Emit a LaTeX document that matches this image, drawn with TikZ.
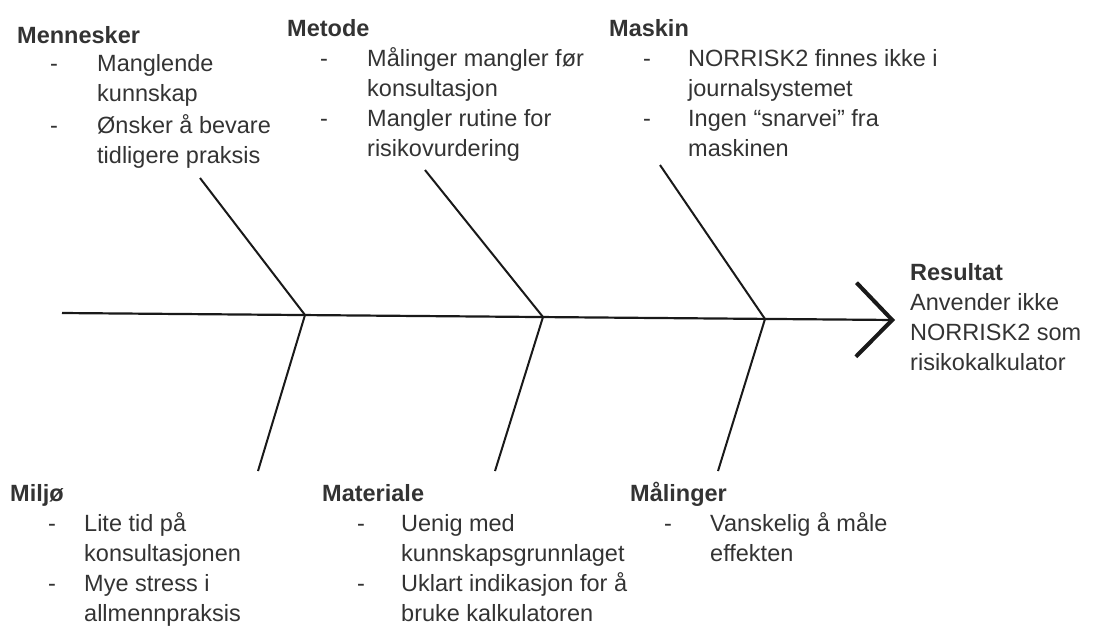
\documentclass[tikz,border=0pt]{standalone}
\usepackage{fontspec}
\setmainfont{Liberation Sans}
\usetikzlibrary{arrows.meta}
\begin{document}
\begin{tikzpicture}[x=1pt,y=-1pt,
  txt/.style={anchor=base west,inner sep=0pt,text=black!80,font=\fontsize{23.5}{30}\selectfont},
  ttl/.style={txt,font=\fontsize{23.5}{30}\selectfont\bfseries},
  bone/.style={line width=2pt,black!90},
  spine/.style={line width=2.2pt,black!90,-{Straight Barb[length=36pt,width=74pt,line width=4pt]}}]
\useasboundingbox (0,0) rectangle (1101,625);
% spine and joints
\coordinate (tail) at (62,313);
\coordinate (head) at (895,320);
\coordinate (j1) at (305,315);
\coordinate (j2) at (543,317);
\coordinate (j3) at (765,319);
\coordinate (u1) at (200,178);
\coordinate (u2) at (425,170);
\coordinate (u3) at (660,165);
\coordinate (d1) at (258,471);
\coordinate (d2) at (495,471);
\coordinate (d3) at (718,471);
\draw[spine] (tail) -- (head);
\draw[bone] (u1) -- (j1) -- (d1);
\draw[bone] (u2) -- (j2) -- (d2);
\draw[bone] (u3) -- (j3) -- (d3);
% Mennesker
\node[ttl] (t1) at (17,43) {Mennesker};
\node[txt] (t1d1) at (50,71) {-};
\node[txt] (t1a) at (97,71) {\parbox[t]{200pt}{Manglende\\kunnskap}};
\node[txt] (t1d2) at (50,133) {-};
\node[txt] (t1b) at (97,133) {\parbox[t]{200pt}{Ønsker å bevare\\tidligere praksis}};
% Metode
\node[ttl] (t2) at (287,36) {Metode};
\node[txt] (t2d1) at (320,66) {-};
\node[txt] (t2a) at (367,66) {\parbox[t]{250pt}{Målinger mangler før\\konsultasjon}};
\node[txt] (t2d2) at (320,126) {-};
\node[txt] (t2b) at (367,126) {\parbox[t]{250pt}{Mangler rutine for\\risikovurdering}};
% Maskin
\node[ttl] (t3) at (609,36) {Maskin};
\node[txt] (t3d1) at (643,66) {-};
\node[txt] (t3a) at (688,66) {\parbox[t]{300pt}{NORRISK2 finnes ikke i\\journalsystemet}};
\node[txt] (t3d2) at (643,126) {-};
\node[txt] (t3b) at (688,126) {\parbox[t]{300pt}{Ingen “snarvei” fra\\maskinen}};
% Resultat
\node[ttl] (r) at (910,280) {Resultat};
\node[txt] (ra) at (910,310) {\parbox[t]{200pt}{Anvender ikke\\NORRISK2 som\\risikokalkulator}};
% Miljø
\node[ttl] (b1) at (10,501) {Miljø};
\node[txt] (b1d1) at (48,531) {-};
\node[txt] (b1a) at (84,531) {\parbox[t]{220pt}{Lite tid på\\konsultasjonen}};
\node[txt] (b1d2) at (48,591) {-};
\node[txt] (b1b) at (84,591) {\parbox[t]{220pt}{Mye stress i\\allmennpraksis}};
% Materiale
\node[ttl] (b2) at (322,501) {Materiale};
\node[txt] (b2d1) at (357,531) {-};
\node[txt] (b2a) at (401,531) {\parbox[t]{260pt}{Uenig med\\kunnskapsgrunnlaget}};
\node[txt] (b2d2) at (357,591) {-};
\node[txt] (b2b) at (401,591) {\parbox[t]{260pt}{Uklart indikasjon for å\\bruke kalkulatoren}};
% Målinger
\node[ttl] (b3) at (630,501) {Målinger};
\node[txt] (b3d1) at (664,531) {-};
\node[txt] (b3a) at (710,531) {\parbox[t]{260pt}{Vanskelig å måle\\effekten}};
\end{tikzpicture}
\end{document}
